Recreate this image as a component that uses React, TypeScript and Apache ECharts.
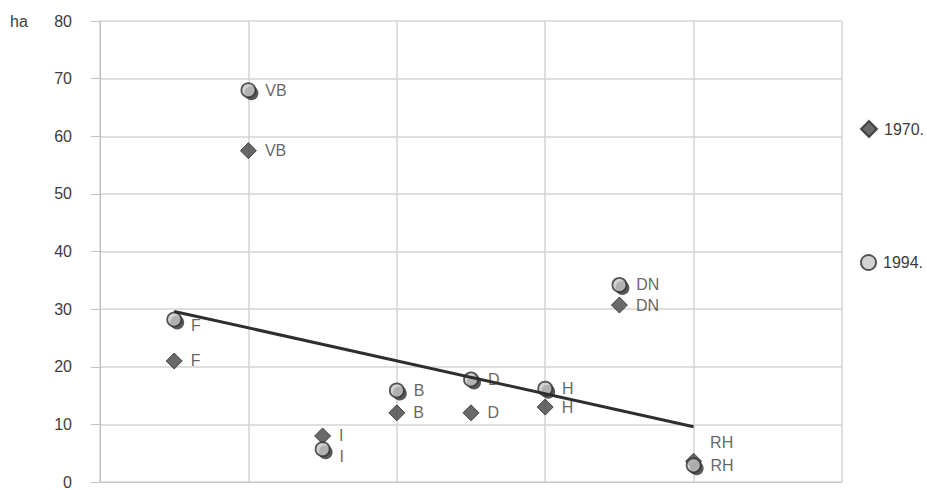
import React, { useEffect, useRef } from "react";
import * as echarts from "echarts";

const categories = ["F", "VB", "I", "B", "D", "H", "DN", "RH"];
const xPositions = [0.5, 1, 1.5, 2, 2.5, 3, 3.5, 4];
const values1970 = [21, 57.5, 8, 12, 12, 13, 30.7, 3.6];
const values1994 = [28.2, 68, 5.7, 15.9, 17.8, 16.2, 34.2, 2.9];
const trendLine = [
  [0.5, 29.6],
  [4, 9.6],
];
const yTicks = { min: 0, max: 80, interval: 10 };

const FONT = "'Liberation Sans', Arial, Helvetica, sans-serif";
const TEXT = "#3c3c3c";
const FS = 16;

export default function App() {
  const ref = useRef<HTMLDivElement>(null);
  useEffect(() => {
    if (!ref.current) return;
    const chart = echarts.init(ref.current, undefined, { renderer: "svg" });

    const label1970Offsets: Record<string, number[]> = { RH: [0, -19] };
    const label1994Offsets: Record<string, number[]> = { F: [0, 6], I: [0, 7] };

    const d1970 = categories.map((c, i) => ({
      value: [xPositions[i], values1970[i]],
      name: c,
      label: label1970Offsets[c] ? { offset: label1970Offsets[c] } : undefined,
    }));
    const d1994 = categories.map((c, i) => ({
      value: [xPositions[i], values1994[i]],
      name: c,
      label: label1994Offsets[c] ? { offset: label1994Offsets[c] } : undefined,
    }));
    const d1994Shadow = categories.map((c, i) => [xPositions[i], values1994[i]]);

    chart.setOption({
      animation: false,
      textStyle: { fontFamily: FONT },
      grid: { left: 100, right: 85, top: 21, bottom: 6, containLabel: false },
      legend: [
        {
          data: [{ name: "1970.", icon: "diamond" }],
          left: 860,
          top: 120,
          padding: 0,
          itemWidth: 16,
          itemHeight: 16,
          itemGap: 5,
          textStyle: { color: TEXT, fontSize: FS, fontFamily: FONT, padding: [0, 0, 0, 2] },
          selectedMode: false,
        },
        {
          data: [{ name: "1994.", icon: "circle" }],
          left: 860,
          top: 254,
          padding: 0,
          itemWidth: 15,
          itemHeight: 15,
          textStyle: { color: TEXT, fontSize: FS, fontFamily: FONT, padding: [0, 0, 0, 2] },
          selectedMode: false,
        },
      ],
      graphic: [
        {
          type: "text",
          left: 10,
          top: 13,
          style: { text: "ha", fill: TEXT, fontSize: FS, fontFamily: FONT },
        },
      ],
      xAxis: {
        type: "value",
        min: 0,
        max: 5,
        interval: 1,
        axisLabel: { show: false },
        axisTick: { show: false },
        axisLine: { show: true, lineStyle: { color: "#c8c8c8", width: 1 } },
        splitLine: { show: true, lineStyle: { color: "#d4d4d4", width: 1.5 } },
      },
      yAxis: {
        type: "value",
        min: yTicks.min,
        max: yTicks.max,
        interval: yTicks.interval,
        axisLabel: { color: TEXT, fontSize: FS, margin: 28, fontFamily: FONT },
        axisTick: { show: true, length: 9, lineStyle: { color: "#c0c0c0" } },
        axisLine: { show: true, lineStyle: { color: "#c0c0c0", width: 1 } },
        splitLine: { show: true, lineStyle: { color: "#d4d4d4", width: 1.5 } },
      },
      series: [
        {
          name: "1970.",
          type: "scatter",
          symbol: "diamond",
          symbolSize: 16,
          data: d1970,
          z: 3,
          itemStyle: { color: "#434343", borderColor: "#2a2a2a", borderWidth: 1 },
          label: {
            show: true,
            position: "right",
            distance: 8,
            formatter: "{b}",
            color: TEXT,
            fontSize: FS,
            fontFamily: FONT,
          },
        },
        {
          name: "1994shadow",
          type: "scatter",
          symbol: "circle",
          symbolSize: 14,
          symbolOffset: [3, 3],
          data: d1994Shadow,
          z: 4,
          itemStyle: { color: "#2e2e2e" },
          silent: true,
        },
        {
          name: "1994.",
          type: "scatter",
          symbol: "circle",
          symbolSize: 14,
          data: d1994,
          z: 5,
          itemStyle: { color: "#c8c8c8", borderColor: "#2e2e2e", borderWidth: 1.8 },
          label: {
            show: true,
            position: "right",
            distance: 9,
            formatter: "{b}",
            color: TEXT,
            fontSize: FS,
            fontFamily: FONT,
          },
        },
        {
          name: "trend",
          type: "line",
          data: trendLine,
          symbol: "none",
          z: 6,
          lineStyle: { color: "#2e2e2e", width: 3 },
          silent: true,
        },
      ],
    });
    return () => chart.dispose();
  }, []);
  return <div ref={ref} style={{ width: 927, height: 490, position: "absolute", left: 0, top: 0 }} />;
}
